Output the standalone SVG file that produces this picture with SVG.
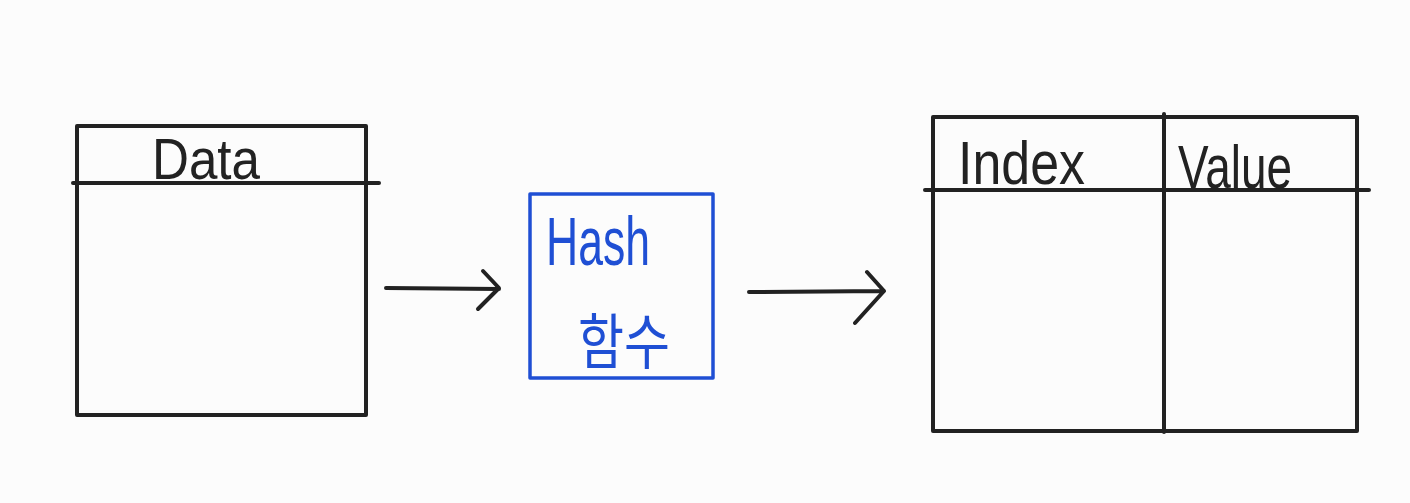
<svg xmlns="http://www.w3.org/2000/svg" width="1410" height="503" viewBox="0 0 1410 503">
<style>
.k{fill:none;stroke:#222;stroke-width:4;stroke-linecap:round;stroke-linejoin:round}
.b{fill:none;stroke:#1f4fd4;stroke-width:3.5;stroke-linejoin:round}
.t{font-family:"Liberation Sans","Noto Sans CJK KR",sans-serif;fill:#222}
.tb{font-family:"Liberation Sans","Noto Sans CJK KR",sans-serif;fill:#1f4fd4}
</style>
<rect width="1410" height="503" fill="#fcfcfc"/>
<g id="data">
<rect class="k" x="77" y="126" width="289" height="289"/>
<line class="k" x1="73" y1="183" x2="379" y2="183"/>
<text class="t" x="152" y="179" font-size="58" textLength="108" lengthAdjust="spacingAndGlyphs">Data</text>
</g>
<g id="hash">
<rect class="b" x="530" y="194" width="183" height="184"/>
<text class="tb" x="546" y="265" font-size="68" textLength="104" lengthAdjust="spacingAndGlyphs">Hash</text>
<text class="tb" x="578" y="364" font-size="60" textLength="92" lengthAdjust="spacingAndGlyphs" font-family="Noto Sans CJK KR, sans-serif">함수</text>
</g>
<g id="table">
<rect class="k" x="933" y="117" width="424" height="314"/>
<line class="k" x1="1164" y1="114" x2="1164" y2="432"/>
<line class="k" x1="925" y1="190" x2="1369" y2="190"/>
<text class="t" x="958" y="184" font-size="62" textLength="127" lengthAdjust="spacingAndGlyphs">Index</text>
<text class="t" x="1178" y="188" font-size="62" textLength="114" lengthAdjust="spacingAndGlyphs">Value</text>
</g>
<g id="connectors">
<path class="k" d="M386 288 L499 289 M483 271 L499 288 L478 309"/>
<path class="k" d="M749 292 L884 291 M867 272 L884 291 L855 323"/>
</g>
</svg>
